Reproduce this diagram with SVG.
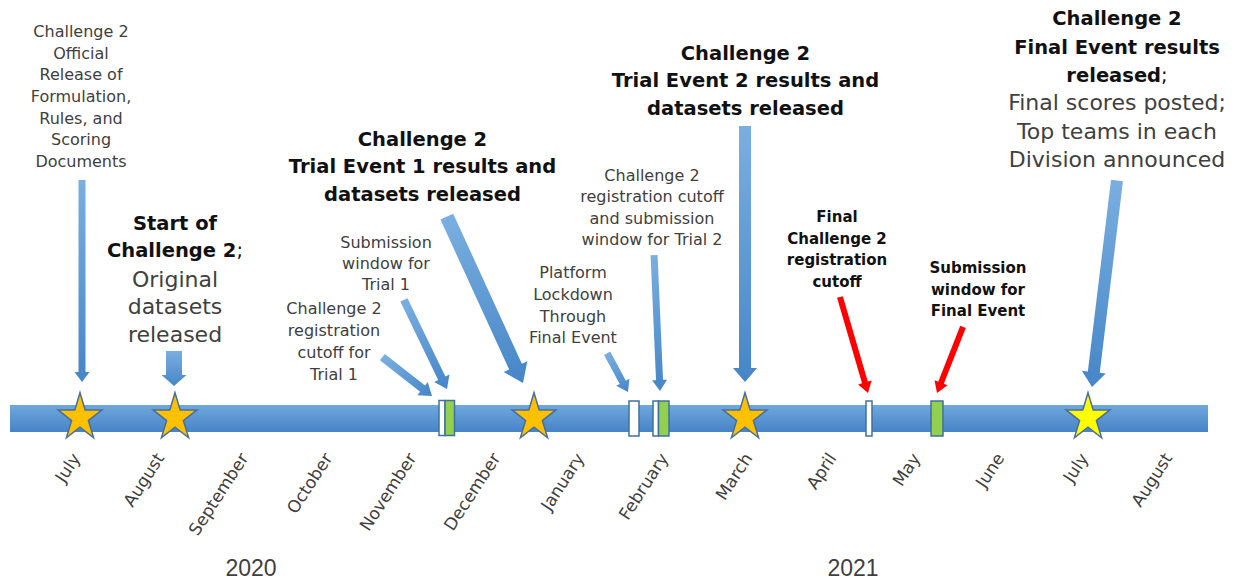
<svg xmlns="http://www.w3.org/2000/svg" xmlns:xlink="http://www.w3.org/1999/xlink" width="1239" height="581" viewBox="0 0 1239 581">
<defs>
<linearGradient id="barG" x1="0" y1="0" x2="0" y2="1"><stop offset="0" stop-color="#6fa8de"/><stop offset="1" stop-color="#4784c6"/></linearGradient>
<linearGradient id="arrG" x1="0" y1="0" x2="1" y2="0"><stop offset="0" stop-color="#7aafe0"/><stop offset="1" stop-color="#4686c7"/></linearGradient>
<path id="star" d="M0,-24.9 L5.19,-7.69 L21.97,-7.69 L8.39,2.94 L13.58,20.14 L0,9.51 L-13.58,20.14 L-8.39,2.94 L-21.97,-7.69 L-5.19,-7.69 Z"/>
</defs>
<style>
.n{font-family:"DejaVu Sans",sans-serif;font-size:16px;fill:#404040;text-anchor:middle}
.nl{font-family:"DejaVu Sans",sans-serif;font-size:22px;fill:#404040;text-anchor:middle}
.b{font-family:"DejaVu Sans",sans-serif;font-size:19.5px;font-weight:bold;fill:#111;text-anchor:middle}
.bs{font-family:"DejaVu Sans",sans-serif;font-size:15px;font-weight:bold;fill:#111;text-anchor:middle}
.semi{font-weight:normal}
.m{font-family:"DejaVu Sans",sans-serif;font-size:17px;fill:#404040;text-anchor:end}
.yr{font-family:"Liberation Sans",sans-serif;font-size:23px;fill:#404040;text-anchor:middle}
.arr{fill:url(#arrG)}
.red{fill:#ff0000}
.st{stroke:#4a6f98;stroke-width:1.5;stroke-linejoin:miter}
.mk{stroke:#41719c;stroke-width:1.5}
</style>
<rect width="1239" height="581" fill="#ffffff"/>

<g id="timeline">
<rect x="10" y="405" width="1198" height="27" fill="url(#barG)"/>
</g>

<g id="connectors">
<polygon class="arr" transform="translate(82,382) rotate(90)" points="-202,-3.5 -10,-3.5 -10,-7.5 0,0 -10,7.5 -10,3.5 -202,3.5"/>
<polygon class="arr" transform="translate(174,386) rotate(90)" points="-35,-8 -11,-8 -11,-12.5 0,0 -11,12.5 -11,8 -35,8"/>
<polygon class="arr" transform="translate(432,396) rotate(38)" points="-63,-4 -12,-4 -12,-8.5 0,0 -12,8.5 -12,4 -63,4"/>
<polygon class="arr" transform="translate(447,389) rotate(64.2)" points="-99,-4 -12,-4 -12,-8.5 0,0 -12,8.5 -12,4 -99,4"/>
<polygon class="arr" transform="translate(523,383) rotate(65.4)" points="-183,-7 -18,-7 -18,-13 0,0 -18,13 -18,7 -183,7"/>
<polygon class="arr" transform="translate(628,392) rotate(61.7)" points="-44,-3.5 -11,-3.5 -11,-7.5 0,0 -11,7.5 -11,3.5 -44,3.5"/>
<polygon class="arr" transform="translate(660,391) rotate(87.5)" points="-136,-3.5 -11,-3.5 -11,-7.5 0,0 -11,7.5 -11,3.5 -136,3.5"/>
<polygon class="arr" transform="translate(745,382) rotate(90)" points="-256,-6 -14,-6 -14,-12 0,0 -14,12 -14,6 -256,6"/>
<polygon class="red" transform="translate(868,393) rotate(73.7)" points="-100,-3 -11,-3 -11,-7 0,0 -11,7 -11,3 -100,3"/>
<polygon class="red" transform="translate(937,393) rotate(111.5)" points="-71,-3 -11,-3 -11,-7 0,0 -11,7 -11,3 -71,3"/>
<polygon class="arr" transform="translate(1092,387) rotate(96.9)" points="-208,-6 -15,-6 -15,-12 0,0 -15,12 -15,6 -208,6"/>
</g>

<g id="markers">
<use xlink:href="#star" href="#star" x="80" y="417.6" fill="#ffc000" class="st"/>
<use xlink:href="#star" href="#star" x="175" y="417.6" fill="#ffc000" class="st"/>
<use xlink:href="#star" href="#star" x="534" y="417.6" fill="#ffc000" class="st"/>
<use xlink:href="#star" href="#star" x="745" y="417.6" fill="#ffc000" class="st"/>
<use xlink:href="#star" href="#star" x="1088" y="417.6" fill="#ffff00" class="st"/>
<rect class="mk" x="439" y="400.5" width="6" height="35" fill="#ffffff"/>
<rect class="mk" x="445" y="400.5" width="9.5" height="35" fill="#92d050"/>
<rect class="mk" x="629" y="401" width="10" height="35" fill="#ffffff"/>
<rect class="mk" x="653" y="401" width="5.5" height="35" fill="#ffffff"/>
<rect class="mk" x="658.5" y="401" width="10.5" height="35" fill="#92d050"/>
<rect class="mk" x="866" y="401" width="6" height="35" fill="#ffffff"/>
<rect class="mk" x="931" y="401" width="12" height="35" fill="#92d050"/>
</g>

<g id="node-release">
<text class="n" x="81" y="37">Challenge 2</text>
<text class="n" x="81" y="58.5">Official</text>
<text class="n" x="81" y="80">Release of</text>
<text class="n" x="81" y="102">Formulation,</text>
<text class="n" x="81" y="123.5">Rules, and</text>
<text class="n" x="81" y="145">Scoring</text>
<text class="n" x="81" y="167">Documents</text>
</g>

<g id="node-start">
<text class="b" x="175" y="230">Start of</text>
<text class="b" x="175" y="257">Challenge 2<tspan class="semi">;</tspan></text>
<text class="nl" x="175" y="287">Original</text>
<text class="nl" x="175" y="314">datasets</text>
<text class="nl" x="175" y="342">released</text>
</g>

<g id="node-reg-t1">
<text class="n" x="334" y="314">Challenge 2</text>
<text class="n" x="334" y="336">registration</text>
<text class="n" x="334" y="358">cutoff for</text>
<text class="n" x="334" y="380">Trial 1</text>
</g>

<g id="node-sub-t1">
<text class="n" x="386" y="248">Submission</text>
<text class="n" x="386" y="269">window for</text>
<text class="n" x="386" y="290">Trial 1</text>
</g>

<g id="node-trial1-results">
<text class="b" x="422.5" y="146">Challenge 2</text>
<text class="b" x="422.5" y="173">Trial Event 1 results and</text>
<text class="b" x="422.5" y="201">datasets released</text>
</g>

<g id="node-lockdown">
<text class="n" x="573" y="278">Platform</text>
<text class="n" x="573" y="300">Lockdown</text>
<text class="n" x="573" y="322">Through</text>
<text class="n" x="573" y="343">Final Event</text>
</g>

<g id="node-reg-t2">
<text class="n" x="652" y="181">Challenge 2</text>
<text class="n" x="652" y="202">registration cutoff</text>
<text class="n" x="652" y="224">and submission</text>
<text class="n" x="652" y="245">window for Trial 2</text>
</g>

<g id="node-trial2-results">
<text class="b" x="745.5" y="60">Challenge 2</text>
<text class="b" x="745.5" y="87">Trial Event 2 results and</text>
<text class="b" x="745.5" y="115">datasets released</text>
</g>

<g id="node-final-reg">
<text class="bs" x="837" y="222">Final</text>
<text class="bs" x="837" y="244">Challenge 2</text>
<text class="bs" x="837" y="265">registration</text>
<text class="bs" x="837" y="287">cutoff</text>
</g>

<g id="node-final-sub">
<text class="bs" x="978" y="273">Submission</text>
<text class="bs" x="978" y="295">window for</text>
<text class="bs" x="978" y="316">Final Event</text>
</g>

<g id="node-final-results">
<text class="b" x="1117" y="25">Challenge 2</text>
<text class="b" x="1117" y="54">Final Event results</text>
<text class="b" x="1117" y="82">released<tspan class="semi">;</tspan></text>
<text class="nl" x="1117" y="110">Final scores posted;</text>
<text class="nl" x="1117" y="139">Top teams in each</text>
<text class="nl" x="1117" y="167">Division announced</text>
</g>

<g id="months">
<text class="m" transform="translate(81,458) rotate(-57)">July</text>
<text class="m" transform="translate(165,458) rotate(-57)">August</text>
<text class="m" transform="translate(249,458) rotate(-57)">September</text>
<text class="m" transform="translate(333,458) rotate(-57)">October</text>
<text class="m" transform="translate(417,458) rotate(-57)">November</text>
<text class="m" transform="translate(501,458) rotate(-57)">December</text>
<text class="m" transform="translate(585,458) rotate(-57)">January</text>
<text class="m" transform="translate(669,458) rotate(-57)">February</text>
<text class="m" transform="translate(753,458) rotate(-57)">March</text>
<text class="m" transform="translate(837,458) rotate(-57)">April</text>
<text class="m" transform="translate(921,458) rotate(-57)">May</text>
<text class="m" transform="translate(1005,458) rotate(-57)">June</text>
<text class="m" transform="translate(1089,458) rotate(-57)">July</text>
<text class="m" transform="translate(1173,458) rotate(-57)">August</text>
</g>

<g id="years">
<text class="yr" x="251" y="576">2020</text>
<text class="yr" x="853" y="576">2021</text>
</g>
</svg>
